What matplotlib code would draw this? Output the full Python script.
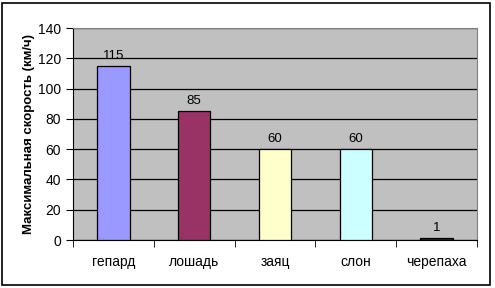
import matplotlib.pyplot as plt
from matplotlib.patches import Rectangle

animals = ['гепард', 'лошадь', 'заяц', 'слон', 'черепаха']
speeds = [115, 85, 60, 60, 1]
colors = ['#9999FF', '#993366', '#FFFFCC', '#CCFFFF', '#660066']
y_ticks = [0, 20, 40, 60, 80, 100, 120, 140]

plt.rcParams['font.family'] = ['Liberation Sans', 'DejaVu Sans']

fig = plt.figure(figsize=(4.95, 2.88), dpi=100)
ax = fig.add_axes([73 / 495, 1 - 240 / 288, 404 / 495, 212 / 288])

# outer chart border
fig.patches.append(Rectangle((2 / 495, 3 / 288), 488 / 495, 282 / 288,
                             transform=fig.transFigure, fill=False,
                             edgecolor='black', linewidth=1.2))

ax.set_facecolor('#C0C0C0')
x = list(range(len(animals)))
bars = ax.bar(x, speeds, width=0.4, color=colors, edgecolor='black',
              linewidth=0.9, zorder=3)
for xi, v in zip(x, speeds):
    ax.annotate(str(v), (xi, v), xytext=(0, 3), textcoords='offset points',
                ha='center', va='bottom', fontsize=9.5)

ax.set_xlim(-0.5, len(animals) - 0.5)
ax.set_ylim(0, 140)
ax.set_yticks(y_ticks)
ax.yaxis.grid(True, color='black', linewidth=0.9, zorder=0)
ax.set_axisbelow(True)

ax.set_xticks(x)
ax.set_xticklabels(animals, fontsize=10)
ax.tick_params(axis='x', length=0, pad=11)
ax.set_xticks([i - 0.5 for i in range(len(animals) + 1)], minor=True)
ax.tick_params(axis='x', which='minor', length=5, direction='out', color='black')
ax.tick_params(axis='y', labelsize=10, length=5, direction='out', color='black')

ax.set_ylabel('Максимальная скорость (км/ч)', fontsize=9.5, fontweight='bold', labelpad=2)

ax.spines['left'].set_color('black')
ax.spines['bottom'].set_color('black')
ax.spines['top'].set_color('#808080')
ax.spines['right'].set_color('#808080')

plt.savefig('out.png', dpi=100)
